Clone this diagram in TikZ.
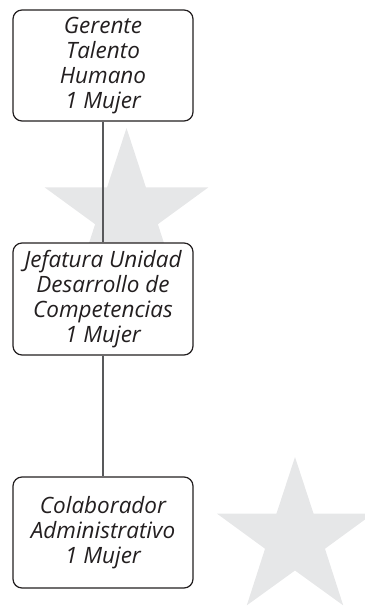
\documentclass[tikz,border=0pt]{standalone}
\usepackage{fontspec}
\setmainfont{Open Sans}
\definecolor{stargray}{HTML}{E6E7E8}
\definecolor{boxline}{HTML}{231F20}
\definecolor{conn}{HTML}{58595B}
\begin{document}
\begin{tikzpicture}[x=1pt,y=-1pt,
  orgbox/.style={draw=boxline, line width=1.2pt, fill=white, rounded corners=9pt,
    minimum width=180pt, minimum height=111pt, align=center, inner sep=1pt,
    font=\fontsize{22.5}{25}\selectfont\itshape, text=boxline},
  connector/.style={draw=conn, line width=1.3pt}]
\useasboundingbox (0,0) rectangle (364,610);
% stars
\fill[stargray] plot[samples at={0,...,9}, variable=\i]
  ({126.5+(mod(\i,2)==0?86:33)*cos(90+36*\i)}, {214-(mod(\i,2)==0?86:33)*sin(90+36*\i)}) -- cycle;
\fill[stargray] plot[samples at={0,...,9}, variable=\i]
  ({295+(mod(\i,2)==0?82:31.5)*cos(90+36*\i)}, {539-(mod(\i,2)==0?82:31.5)*sin(90+36*\i)}) -- cycle;
% boxes
\node[orgbox] (g) at (103,65.5) {Gerente\\Talento\\Humano\\1 Mujer};
\node[orgbox, minimum height=112pt] (j) at (103,299) {Jefatura Unidad\\Desarrollo de\\Competencias\\1 Mujer};
\node[orgbox] (c) at (103,532.5) {Colaborador\\Administrativo\\1 Mujer};
% connectors
\draw[connector] (g.south) -- (j.north);
\draw[connector] (j.south) -- (c.north);
\end{tikzpicture}
\end{document}
